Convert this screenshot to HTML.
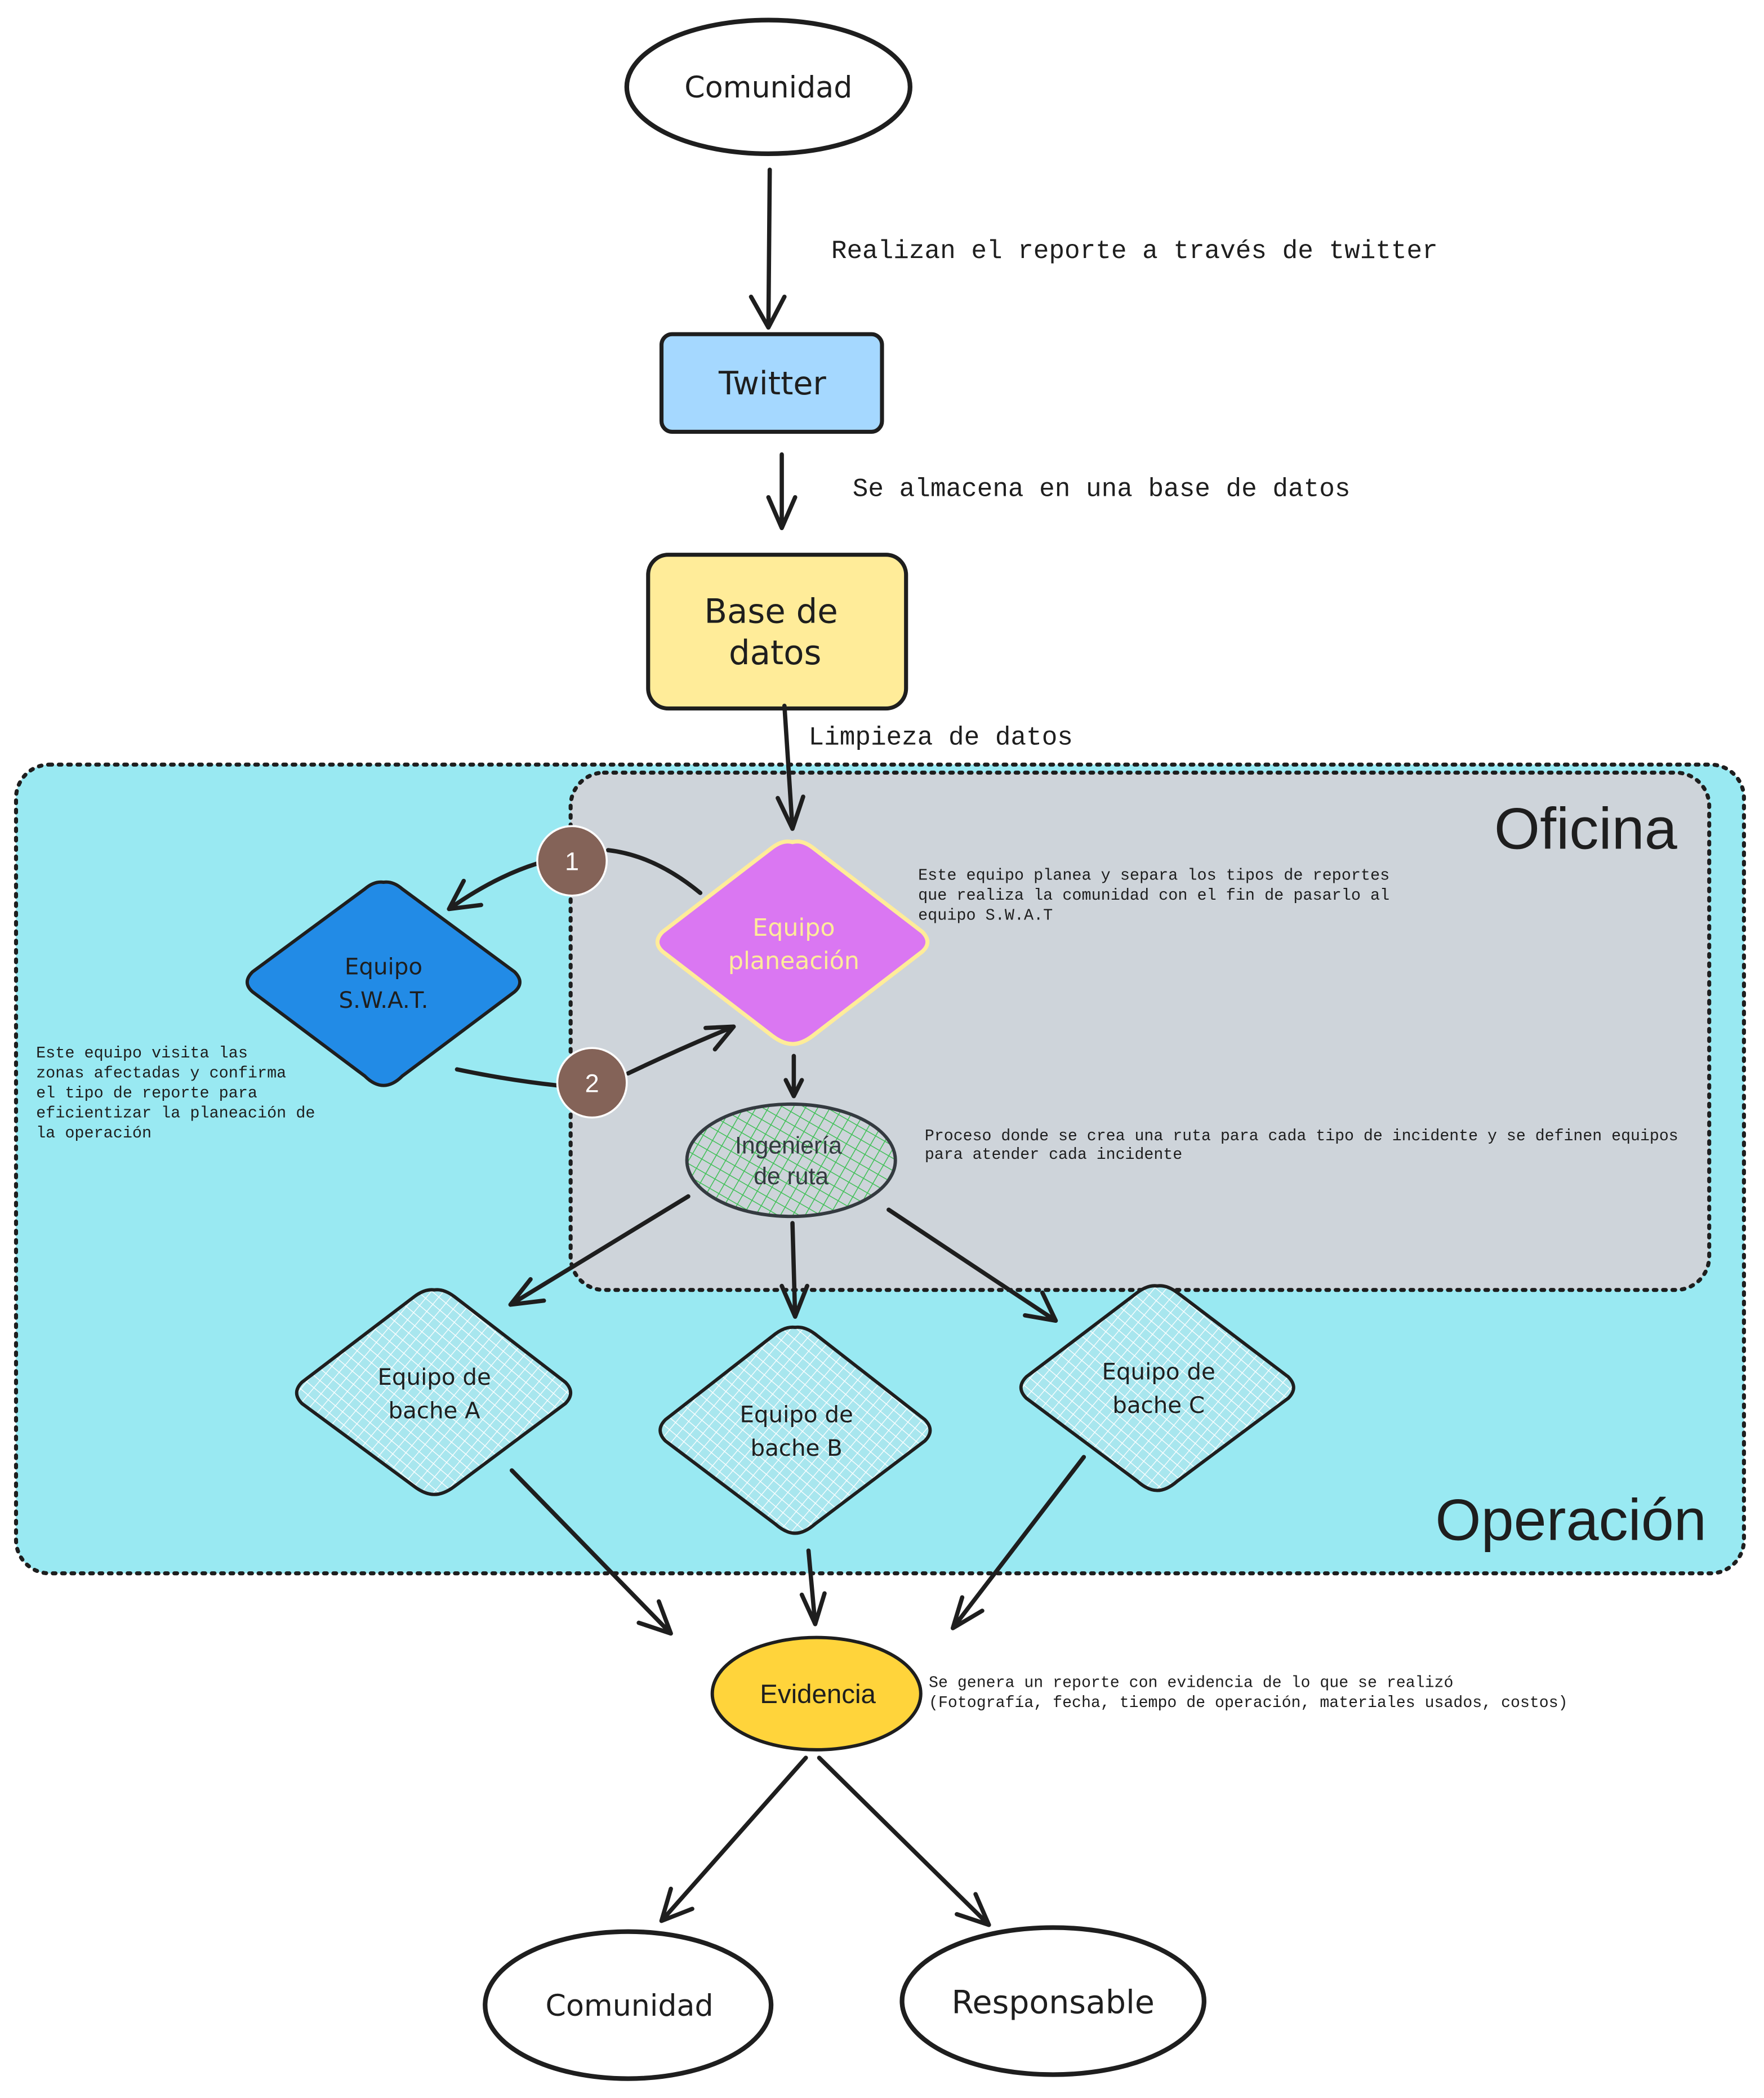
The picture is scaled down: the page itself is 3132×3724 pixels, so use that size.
<!DOCTYPE html>
<html><head><meta charset="utf-8"><style>
html,body{margin:0;padding:0;background:#fff}
svg{display:block}
.h{font-family:"DejaVu Sans","Liberation Sans",sans-serif;fill:#1e1e1e}
.m{font-family:"Liberation Mono","DejaVu Sans Mono",monospace;fill:#1e1e1e}
.a{font-family:"Liberation Sans",Arial,sans-serif}
.ln{fill:none;stroke:#1e1e1e;stroke-width:3.2;stroke-linecap:round;stroke-linejoin:round}
</style></head><body>
<svg width="3132" height="3724" viewBox="0 0 1320 1569.5" xmlns="http://www.w3.org/2000/svg">
<defs>
<pattern id="gh" width="8" height="8" patternUnits="userSpaceOnUse" patternTransform="rotate(30)">
<rect width="8" height="8" fill="#ced4da"/>
<path d="M0 0V8M0 0H8" stroke="#40c057" stroke-width="1.3"/>
</pattern>
<pattern id="ch" width="7" height="7" patternUnits="userSpaceOnUse" patternTransform="rotate(40)">
<rect width="7" height="7" fill="#a8e6ee"/>
<path d="M0 0V7M0 0H7" stroke="#ffffff" stroke-width="1.1"/>
</pattern>
</defs>
<rect width="1320" height="1569.5" fill="#fff"/>

<!-- top -->
<ellipse cx="575" cy="65" rx="106" ry="50" fill="#fff" stroke="#1e1e1e" stroke-width="3.5"/>
<text x="575" y="73" text-anchor="middle" class="h" font-size="22">Comunidad</text>
<path class="ln" d="M576 127 L575 245 M562 222 L575 245 L587 222"/>
<text x="622" y="193" class="m" font-size="19.4">Realizan el reporte a través de twitter</text>

<rect x="495" y="250" width="165" height="73" rx="8" fill="#a5d8ff" stroke="#1e1e1e" stroke-width="3"/>
<text x="578" y="295" text-anchor="middle" class="h" font-size="24">Twitter</text>
<path class="ln" d="M585 340 L585 395 M575 372 L585 395 L595 372"/>
<text x="638" y="371" class="m" font-size="19.4">Se almacena en una base de datos</text>

<rect x="485" y="415" width="193" height="115" rx="15" fill="#ffec99" stroke="#1e1e1e" stroke-width="3"/>
<text x="577" y="466" text-anchor="middle" class="h" font-size="25">Base de</text>
<text x="580" y="497" text-anchor="middle" class="h" font-size="25">datos</text>
<text x="605" y="557" class="m" font-size="19.4">Limpieza de datos</text>

<!-- regions -->
<rect x="12" y="572" width="1293" height="605" rx="25" fill="#99e9f2" stroke="#1e1e1e" stroke-width="3" stroke-dasharray="2 5" stroke-linecap="round"/>
<text x="1277" y="1152" text-anchor="end" class="a" font-size="44" fill="#1e1e1e">Operación</text>
<rect x="427" y="578" width="852" height="387" rx="25" fill="#ced4da" stroke="#1e1e1e" stroke-width="3" stroke-dasharray="2 5" stroke-linecap="round"/>
<text x="1255" y="635" text-anchor="end" class="a" font-size="44" fill="#1e1e1e">Oficina</text>

<path class="ln" d="M587 528 L593 620 M582 597 L593 620 L601 596"/>

<!-- planeacion -->
<path d="M593 630 Q600 628 608 634 L690 697 Q698 705 690 712 L608 775 Q600 781 593 781 Q586 781 578 775 L496 712 Q488 705 496 697 L578 634 Q586 628 593 630Z" fill="#da77f2" stroke="#ffec99" stroke-width="3"/>
<text x="594" y="700" text-anchor="middle" class="h" font-size="18" style="fill:#ffec99">Equipo</text>
<text x="594" y="725" text-anchor="middle" class="h" font-size="18" style="fill:#ffec99">planeación</text>
<text class="m" font-size="12"><tspan x="687" y="658">Este equipo planea y separa los tipos de reportes</tspan><tspan x="687" y="673">que realiza la comunidad con el fin de pasarlo al</tspan><tspan x="687" y="688">equipo S.W.A.T</tspan></text>

<!-- swat -->
<path d="M287 660 Q294 659 301 665 L385 727 Q393 735 385 742 L301 805 Q294 812 287 812 Q280 812 273 805 L189 742 Q181 735 189 727 L273 665 Q280 659 287 660Z" fill="#228be6" stroke="#1e1e1e" stroke-width="2.5"/>
<text x="287" y="729" text-anchor="middle" class="h" font-size="17">Equipo</text>
<text x="287" y="754" text-anchor="middle" class="h" font-size="17">S.W.A.T.</text>
<text class="m" font-size="12"><tspan x="27" y="791">Este equipo visita las</tspan><tspan x="27" y="806">zonas afectadas y confirma</tspan><tspan x="27" y="821">el tipo de reporte para</tspan><tspan x="27" y="836">eficientizar la planeación de</tspan><tspan x="27" y="851">la operación</tspan></text>

<path class="ln" d="M524 668 Q490 640 455 636 M402 646 Q370 656 336 680 M347 659 L336 680 L360 677"/>
<path class="ln" d="M342 800 Q380 808 417 812 M470 803 Q510 784 549 768 M528 769 L549 768 L535 785"/>
<circle cx="428" cy="644" r="26" fill="#846358" stroke="#fff" stroke-width="1.5"/>
<text x="428" y="651" text-anchor="middle" class="a" font-size="19" fill="#fff">1</text>
<circle cx="443" cy="810" r="26" fill="#846358" stroke="#fff" stroke-width="1.5"/>
<text x="443" y="817" text-anchor="middle" class="a" font-size="19" fill="#fff">2</text>

<path class="ln" d="M594 790 L594 820 M588 808 L594 820 L600 808"/>

<ellipse cx="592" cy="868" rx="78" ry="42" fill="url(#gh)" stroke="#343a40" stroke-width="2.5"/>
<text x="590" y="863" text-anchor="middle" class="a" font-size="18" fill="#343a40">Ingeniería</text>
<text x="592" y="886" text-anchor="middle" class="a" font-size="18" fill="#343a40">de ruta</text>
<text class="m" font-size="11.9"><tspan x="692" y="853">Proceso donde se crea una ruta para cada tipo de incidente y se definen equipos</tspan><tspan x="692" y="867">para atender cada incidente</tspan></text>

<path class="ln" d="M515 895 L382 976 M397 957 L382 976 L407 973"/>
<path class="ln" d="M593 915 L595 985 M585 962 L595 985 L604 962"/>
<path class="ln" d="M665 905 L790 988 M780 967 L790 988 L767 984"/>

<!-- baches -->
<path d="M325 965 Q332 964 340 970 L423 1034 Q431 1042 423 1050 L340 1112 Q332 1118 325 1118 Q318 1118 310 1112 L226 1050 Q218 1042 226 1034 L310 970 Q318 964 325 965Z" fill="url(#ch)" stroke="#1e1e1e" stroke-width="2.5"/>
<text x="325" y="1036" text-anchor="middle" class="h" font-size="17">Equipo de</text>
<text x="325" y="1061" text-anchor="middle" class="h" font-size="17">bache A</text>
<path d="M595 993 Q602 992 610 998 L692 1062 Q700 1070 692 1078 L610 1140 Q602 1147 595 1147 Q588 1147 580 1140 L498 1078 Q490 1070 498 1062 L580 998 Q588 992 595 993Z" fill="url(#ch)" stroke="#1e1e1e" stroke-width="2.5"/>
<text x="596" y="1064" text-anchor="middle" class="h" font-size="17">Equipo de</text>
<text x="596" y="1089" text-anchor="middle" class="h" font-size="17">bache B</text>
<path d="M866 962 Q873 961 881 967 L964 1030 Q972 1038 964 1046 L881 1108 Q873 1115 866 1115 Q859 1115 851 1108 L768 1046 Q760 1038 768 1030 L851 967 Q859 961 866 962Z" fill="url(#ch)" stroke="#1e1e1e" stroke-width="2.5"/>
<text x="867" y="1032" text-anchor="middle" class="h" font-size="17">Equipo de</text>
<text x="867" y="1057" text-anchor="middle" class="h" font-size="17">bache C</text>

<path class="ln" d="M383 1100 L502 1222 M478 1214 L502 1222 L493 1198"/>
<path class="ln" d="M605 1160 L610 1215 M600 1193 L610 1215 L617 1192"/>
<path class="ln" d="M811 1090 L713 1218 M720 1195 L713 1218 L735 1205"/>

<ellipse cx="611" cy="1267" rx="78" ry="42" fill="#ffd43b" stroke="#1e1e1e" stroke-width="2.5"/>
<text x="612" y="1274" text-anchor="middle" class="a" font-size="20" fill="#1e1e1e">Evidencia</text>
<text class="m" font-size="11.9"><tspan x="695" y="1262">Se genera un reporte con evidencia de lo que se realizó</tspan><tspan x="695" y="1277">(Fotografía, fecha, tiempo de operación, materiales usados, costos)</tspan></text>

<path class="ln" d="M603 1315 L495 1437 M502 1413 L495 1437 L518 1428"/>
<path class="ln" d="M613 1315 L740 1440 M730 1417 L740 1440 L716 1432"/>

<ellipse cx="470" cy="1500" rx="107" ry="55" fill="#fff" stroke="#1e1e1e" stroke-width="3.5"/>
<text x="471" y="1508" text-anchor="middle" class="h" font-size="22">Comunidad</text>
<ellipse cx="788" cy="1497" rx="113" ry="55" fill="#fff" stroke="#1e1e1e" stroke-width="3.5"/>
<text x="788" y="1506" text-anchor="middle" class="h" font-size="24">Responsable</text>
</svg>
</body></html>
